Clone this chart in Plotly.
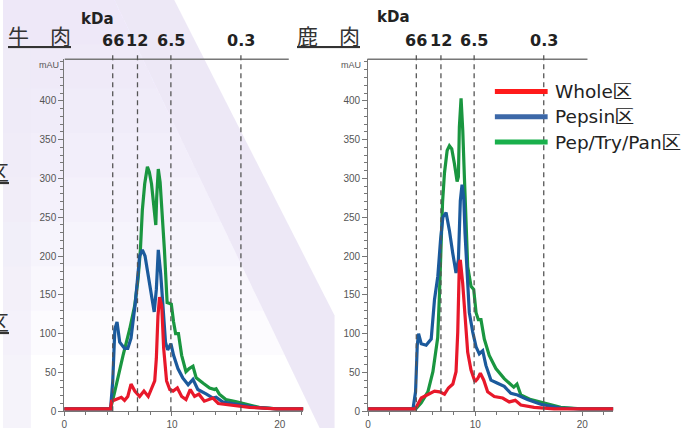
import plotly.graph_objects as go

W, H = 695, 434

# ---------------- data ----------------
series_names = ["Whole区", "Pepsin区", "Pep/Try/Pan区"]
series_colors = ["#e8182a", "#1b5a9c", "#1a9640"]
legend_colors = ["#ff1a1a", "#3c68a8", "#19b04c"]

panel_titles = ["牛　肉", "鹿　肉"]
kda_title = "kDa"
kda_labels = ["66", "12", "6.5", "0.3"]
kda_positions = [4.5, 6.8, 9.9, 16.4]
y_tick_values = [0, 50, 100, 150, 200, 250, 300, 350, 400]
x_tick_values = [0, 10, 20]

# 牛肉 (beef)
beef_whole_x = [0, 4.3, 4.4, 4.85, 5.3, 5.6, 5.9, 6.2, 6.55, 7.0, 7.4, 7.8, 8.1, 8.4, 8.55, 8.7, 8.85,
                9.05, 9.23, 9.5, 9.8, 10.1, 10.5, 10.9, 11.3, 11.7, 12.1, 12.5, 13.0, 13.8, 14.3, 15.3,
                17.2, 19.7, 22.2]
beef_whole_y = [3, 3, 13, 15, 18, 14, 19, 35, 26, 19, 26, 19, 28, 39, 68, 123, 147, 136, 81, 39, 28,
                26, 30, 19, 15, 28, 19, 22, 13, 17, 10, 8, 5, 3, 3]

beef_pepsin_x = [0, 4.3, 4.5, 4.7, 4.9, 5.15, 5.6, 5.9, 6.2, 6.6, 7.0, 7.25, 7.5, 7.8, 8.2, 8.35, 8.55,
                 8.73, 8.95, 9.17, 9.4, 9.6, 9.9, 10.15, 10.55, 11.0, 11.5, 11.95, 12.4, 13.2, 13.8,
                 14.1, 14.7, 16.0, 17.8, 19.7, 22.2]
beef_pepsin_y = [3, 3, 38, 106, 115, 89, 81, 81, 94, 140, 200, 208, 200, 174, 136, 128, 157, 208, 178,
                 132, 89, 79, 87, 72, 55, 43, 34, 41, 28, 22, 17, 18, 12, 9, 5, 3, 3]

beef_ptp_x = [0, 4.3, 4.7, 5.15, 5.46, 6.08, 6.54, 6.85, 7.07, 7.25, 7.47, 7.72, 7.9, 8.1, 8.3, 8.45,
              8.5, 8.58, 8.73, 8.9, 9.1, 9.3, 9.55, 9.94, 10.15, 10.34, 10.6, 10.9, 11.3, 11.6, 11.95,
              12.25, 12.9, 13.5, 13.95, 14.1, 14.4, 15.0, 16.0, 16.9, 18.1, 19.7, 22.2]
beef_ptp_y = [3, 3, 26, 55, 72, 106, 136, 170, 208, 259, 293, 315, 308, 293, 268, 245, 240, 275, 312,
              295, 255, 208, 140, 138, 115, 100, 100, 72, 51, 55, 58, 43, 36, 30, 28, 29, 22, 15, 12,
              9, 5, 3, 3]

# 鹿肉 (venison)
deer_whole_x = [0, 4.4, 4.96, 5.58, 6.2, 6.67, 7.13, 7.5, 7.91, 8.21, 8.37, 8.52, 8.61, 8.83, 9.05,
                9.3, 9.61, 9.98, 10.23, 10.48, 10.8, 11.16, 11.78, 12.56, 13.18, 13.74, 14.26, 15.5,
                17.36, 22.9]
deer_whole_y = [3, 3, 17, 21, 26, 25, 22, 30, 35, 51, 102, 191, 195, 165, 119, 76, 53, 38, 42, 49,
                40, 25, 19, 17, 12, 14, 8, 5, 3, 3]

deer_pepsin_x = [0, 4.19, 4.43, 4.59, 4.71, 4.96, 5.42, 5.89, 6.2, 6.51, 6.76, 6.98, 7.28, 7.59, 7.91,
                 8.21, 8.43, 8.61, 8.77, 8.93, 9.05, 9.24, 9.45, 9.77, 10.08, 10.38, 10.7, 11.0, 11.47,
                 12.09, 12.71, 13.33, 13.95, 14.88, 16.12, 17.98, 19.84, 22.9]
deer_pepsin_y = [3, 3, 25, 85, 100, 87, 85, 93, 144, 174, 220, 250, 256, 233, 203, 178, 195, 271, 292,
                 275, 229, 170, 127, 102, 83, 74, 78, 59, 40, 36, 32, 23, 21, 15, 9, 4, 3, 3]

deer_ptp_x = [0, 4.45, 4.96, 5.58, 6.05, 6.5, 6.66, 6.8, 6.95, 7.13, 7.38, 7.59, 7.81, 8.06, 8.31,
              8.43, 8.52, 8.68, 8.84, 8.99, 9.14, 9.3, 9.61, 9.86, 10.08, 10.29, 10.54, 10.85, 11.31,
              11.93, 12.71, 13.33, 13.6, 13.9, 14.26, 15.19, 16.43, 17.98, 19.84, 22.9]
deer_ptp_y = [3, 3, 11, 25, 51, 95, 150, 215, 269, 307, 336, 342, 338, 319, 296, 302, 366, 403, 361,
              302, 240, 186, 161, 157, 127, 118, 118, 93, 72, 55, 42, 34, 31, 35, 21, 15, 11, 5, 3, 3]

panels = [
    [(beef_whole_x, beef_whole_y), (beef_pepsin_x, beef_pepsin_y), (beef_ptp_x, beef_ptp_y)],
    [(deer_whole_x, deer_whole_y), (deer_pepsin_x, deer_pepsin_y), (deer_ptp_x, deer_ptp_y)],
]
x_ranges = [[0, 22.2], [0, 22.9]]
y_range = [0, 453.6]


# ---------------- helpers (pixel -> paper) ----------------
def px(x):
    return x / W


def py(y):
    return 1 - y / H


fig = go.Figure()

axis_names = [("x", "y"), ("x2", "y2")]
for p, series in enumerate(panels):
    xa, ya = axis_names[p]
    for i in [2, 1, 0]:  # green, blue, red (red on top)
        xs, ys = series[i]
        fig.add_trace(go.Scatter(
            x=xs, y=ys, mode="lines", name=series_names[i],
            line=dict(color=series_colors[i], width=3.2),
            xaxis=xa, yaxis=ya, showlegend=False, hoverinfo="skip"))

# ---------------- axes ----------------
x_domains = [[px(61.5), px(301.7)], [px(366.7), px(613)]]
y_domain = [py(417), py(60)]

common_axis = dict(showline=True, linecolor="#777", linewidth=1, ticks="outside",
                   tickcolor="#777", showgrid=False, zeroline=False,
                   tickfont=dict(family="Liberation Sans", size=10, color="#555"))

xminor = dict(dtick=2, ticks="outside", ticklen=3, tickcolor="#777")
yminor = dict(dtick=10, ticks="outside", ticklen=3, tickcolor="#777")

fig.update_layout(
    xaxis=dict(domain=x_domains[0], range=x_ranges[0], tickvals=x_tick_values, anchor="y",
               ticklen=4, minor=xminor, **common_axis),
    xaxis2=dict(domain=x_domains[1], range=x_ranges[1], tickvals=x_tick_values, anchor="y2",
                ticklen=4, minor=xminor, **common_axis),
    yaxis=dict(domain=y_domain, range=y_range, tickvals=y_tick_values, anchor="x",
               ticklen=5, minor=yminor, **common_axis),
    yaxis2=dict(domain=y_domain, range=y_range, tickvals=y_tick_values, anchor="x2",
                ticklen=5, minor=yminor, **common_axis),
)

shapes = []
# background decoration (slide background): soft lavender fade + diagonal band
for k in range(8):
    yk = 45 * (k + 1)
    xe = 112 + 0.475 * yk
    shapes.append(dict(type="path", xref="paper", yref="paper",
                       path=f"M {px(0)},{py(0)} L {px(112)},{py(0)} L {px(xe)},{py(yk)} L {px(0)},{py(yk)} Z",
                       fillcolor="#e9e3f4", line=dict(width=0), layer="below", opacity=0.13))
shapes.append(dict(type="rect", xref="paper", yref="paper", x0=0, x1=px(28), y0=0, y1=py(40),
                   fillcolor="#efebf7", line=dict(width=0), layer="below", opacity=0.6))
shapes.append(dict(type="path", xref="paper", yref="paper",
                   path=(f"M {px(112)},{py(0)} L {px(172)},{py(0)} L {px(333)},{py(320)} "
                         f"L {px(333)},{py(434)} L {px(318)},{py(434)} Z"),
                   fillcolor="#e6def2", line=dict(width=0), layer="below", opacity=0.7))

# top frame lines
for x0, x1 in [(62, 287), (366, 587)]:
    shapes.append(dict(type="line", xref="paper", yref="paper", x0=px(x0), x1=px(x1),
                       y0=py(60), y1=py(60), line=dict(color="#777", width=1.5)))

# dashed marker lines
for xa in ["x", "x2"]:
    for pos in kda_positions:
        shapes.append(dict(type="line", xref=xa, yref="paper", x0=pos, x1=pos,
                           y0=py(417), y1=py(52), line=dict(color="#555", width=1.3, dash="5px,4px")))

# legend lines
legend_y = [92.7, 118.3, 144]
for i in range(3):
    shapes.append(dict(type="line", xref="paper", yref="paper", x0=px(494), x1=px(547),
                       y0=py(legend_y[i]), y1=py(legend_y[i]),
                       line=dict(color=legend_colors[i], width=5)))

annotations = []
for i in range(3):
    annotations.append(dict(xref="paper", yref="paper", x=px(552), y=py(legend_y[i]),
                            text=series_names[i], showarrow=False, xanchor="left", yanchor="middle",
                            font=dict(family="DejaVu Sans", size=18.5, color="#222")))

for xa in ["x", "x2"]:
    for lab, pos in zip(kda_labels, kda_positions):
        annotations.append(dict(xref=xa, yref="paper", x=pos, y=py(41), text=lab, showarrow=False,
                                xanchor="center", yanchor="middle",
                                font=dict(family="DejaVu Sans", size=16, color="#222", weight="bold")))

for (kx, ky) in [(95, 19), (392, 17)]:
    annotations.append(dict(xref="paper", yref="paper", x=px(kx), y=py(ky), text=kda_title,
                            showarrow=False, xanchor="center", yanchor="middle",
                            font=dict(family="DejaVu Sans", size=15, color="#222", weight="bold")))

for title, (tx, ty) in zip(panel_titles, [(37, 35), (327, 35)]):
    annotations.append(dict(xref="paper", yref="paper", x=px(tx), y=py(ty), text=f"<u>{title}</u>",
                            showarrow=False, xanchor="center", yanchor="middle",
                            font=dict(family="Noto Sans CJK JP", size=21, color="#333")))

for ty in [173, 326]:
    annotations.append(dict(xref="paper", yref="paper", x=px(8), y=py(ty), text="<u>区</u>",
                            showarrow=False, xanchor="right", yanchor="middle",
                            font=dict(family="Noto Sans CJK JP", size=21, color="#333")))

for mx in [58, 362]:
    annotations.append(dict(xref="paper", yref="paper", x=px(mx), y=py(66), text="mAU",
                            showarrow=False, xanchor="right", yanchor="middle",
                            font=dict(family="Liberation Sans", size=9, color="#555")))

fig.update_layout(
    width=W, height=H, margin=dict(l=0, r=0, t=0, b=0),
    paper_bgcolor="white", plot_bgcolor="rgba(0,0,0,0)",
    showlegend=False, shapes=shapes, annotations=annotations,
)

fig.write_html("out.html", config={"displayModeBar": False},
               post_script="document.body.style.margin='0px';")
